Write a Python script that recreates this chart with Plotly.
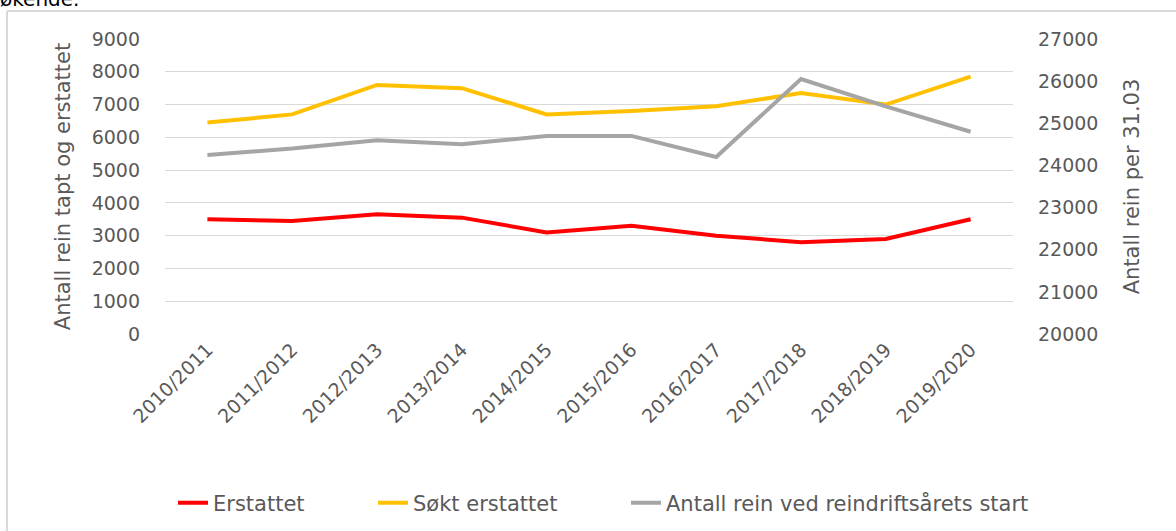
import plotly.graph_objects as go

seasons = ["2010/2011", "2011/2012", "2012/2013", "2013/2014", "2014/2015",
           "2015/2016", "2016/2017", "2017/2018", "2018/2019", "2019/2020"]
erstattet = [3500, 3450, 3650, 3550, 3100, 3300, 3000, 2800, 2900, 3500]
sokt_erstattet = [6450, 6700, 7600, 7500, 6700, 6800, 6950, 7350, 7000, 7850]
antall_rein = [24250, 24400, 24600, 24500, 24700, 24700, 24200, 26050, 25400, 24800]

W, H = 1176, 531
L, R, T, B = 165, 163, 39, 197
PW, PH = W - L - R, H - T - B


def px(x):
    return (x - L) / PW


def py(y):
    return (H - B - y) / PH


FONT = "DejaVu Sans"
TXT = "#595959"

fig = go.Figure()
fig.add_trace(go.Scatter(x=seasons, y=erstattet, name="Erstattet", mode="lines",
                         line=dict(color="#ff0000", width=4), legend="legend"))
fig.add_trace(go.Scatter(x=seasons, y=sokt_erstattet, name="Søkt erstattet", mode="lines",
                         line=dict(color="#ffc000", width=4), legend="legend2"))
fig.add_trace(go.Scatter(x=seasons, y=antall_rein, name="Antall rein ved reindriftsårets start",
                         mode="lines", line=dict(color="#a5a5a5", width=4), yaxis="y2",
                         legend="legend3"))


def leg(text_start):
    return dict(orientation="h", x=px(text_start - 42), y=py(503), xanchor="left",
                yanchor="middle", font=dict(size=21, color=TXT, family=FONT),
                bgcolor="rgba(0,0,0,0)")


fig.update_layout(
    width=W, height=H,
    margin=dict(l=L, r=R, t=T, b=B, autoexpand=False),
    paper_bgcolor="white", plot_bgcolor="white",
    font=dict(family=FONT, color=TXT, size=18),
    showlegend=True,
    legend=leg(215), legend2=leg(415), legend3=leg(668),
    xaxis=dict(type="category", range=[-0.5, 9.5], tickangle=-45, showgrid=False,
               automargin=False,
               showline=False, ticks="", tickfont=dict(size=19, color=TXT, family=FONT)),
    yaxis=dict(range=[0, 9000], dtick=1000, showgrid=True, gridcolor="#d9d9d9", gridwidth=1,
               automargin=False,
               zeroline=False, showline=False, ticks="", ticklabelstandoff=24,
               tickformat="d", tickfont=dict(size=19, color=TXT, family=FONT),
               title=dict(text="Antall rein tapt og erstattet",
                          font=dict(size=21, color=TXT, family=FONT), standoff=15)),
    yaxis2=dict(range=[20000, 27000], dtick=1000, overlaying="y", side="right",
                automargin=False,
                showgrid=False, zeroline=False, showline=False, ticks="",
                ticklabelstandoff=24, tickformat="d",
                tickfont=dict(size=19, color=TXT, family=FONT),
                title=dict(text="Antall rein per 31.03",
                           font=dict(size=21, color=TXT, family=FONT), standoff=26)),
)

# outer frame (left and top edge visible)
fig.add_shape(type="line", xref="paper", yref="paper", x0=px(7), x1=px(7), y0=py(11), y1=py(540),
              line=dict(color="#d9d9d9", width=2))
fig.add_shape(type="line", xref="paper", yref="paper", x0=px(7), x1=px(1190), y0=py(11), y1=py(11),
              line=dict(color="#d9d9d9", width=2))

# cut-off text from the surrounding document
fig.add_annotation(text="økende.", xref="paper", yref="paper", x=px(-2), y=py(13),
                   xanchor="left", yanchor="bottom", showarrow=False,
                   font=dict(size=20, color="#000000", family=FONT))

fig.write_html("out.html", config={"displayModeBar": False},
               post_script="document.body.style.margin='0';")
